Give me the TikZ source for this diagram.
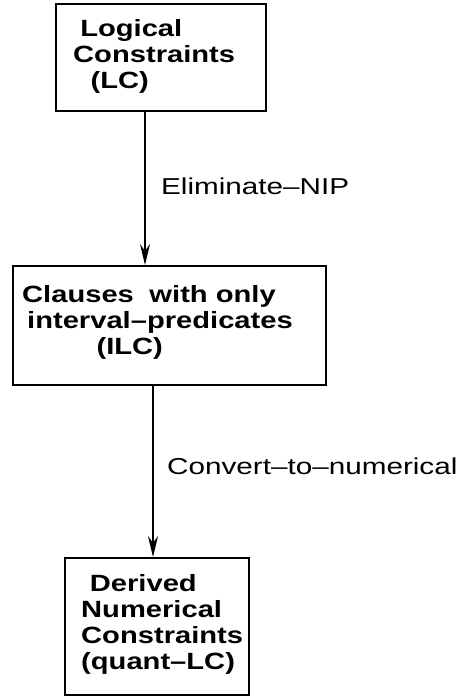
\documentclass[tikz,border=0pt]{standalone}
\usepackage{fontspec}
\setmainfont{Liberation Sans}
\usetikzlibrary{arrows.meta}
% text in this figure is set wide: stretch it horizontally
\newcommand{\widetext}[1]{\scalebox{1.24}[1]{#1}}
\newcommand{\widelabel}[1]{\scalebox{1.29}[1]{#1}}
\begin{document}
\begin{tikzpicture}[x=1pt,y=-1pt,
  stagebox/.style={draw, line width=2pt, anchor=north west, inner sep=0pt},
  stagetext/.style={anchor=base west, inner sep=0pt,
    font=\bfseries\fontsize{23.5}{26}\selectfont},
  steplabel/.style={anchor=base west, inner sep=0pt,
    font=\fontsize{23}{26}\selectfont},
  flow/.style={line width=1.5pt, -{Stealth[length=21pt,width=10pt,inset=7pt]}}]
\useasboundingbox (0,0) rectangle (461,696);

% the three stages
\node[stagebox, minimum width=210pt, minimum height=107pt] (lc) at (55,3) {};
\node[stagebox, minimum width=313pt, minimum height=119pt] (ilc) at (12,265) {};
\node[stagebox, minimum width=184pt, minimum height=137pt] (qlc) at (64,557) {};

\node[stagetext] (lctext) at (73,36) {\widetext{\begin{tabular}[t]{@{}l@{}}
  \hspace{5.7pt}Logical\\ Constraints\\ \hspace{14pt}(LC)\end{tabular}}};
\node[stagetext] (ilctext) at (22,302) {\widetext{\begin{tabular}[t]{@{}l@{}}
  Clauses\hspace{6pt} with only\\ \hspace{4pt}interval--predicates\\ \hspace{60pt}(ILC)\end{tabular}}};
\node[stagetext] (qlctext) at (81,591) {\widetext{\begin{tabular}[t]{@{}l@{}}
  \hspace{7pt}Derived\\ Numerical\\ Constraints\\ (quant--LC)\end{tabular}}};

% transformation steps
\coordinate (a1) at (145,0);
\draw[flow] (lc.south -| a1) -- (ilc.north -| a1);
\coordinate (a2) at (153,0);
\draw[flow] (ilc.south -| a2) -- (qlc.north -| a2);

\node[steplabel] (elim) at (161,194) {\widelabel{Eliminate--NIP}};
\node[steplabel] (conv) at (167,474) {\widelabel{Convert--to--numerical}};
\end{tikzpicture}
\end{document}
